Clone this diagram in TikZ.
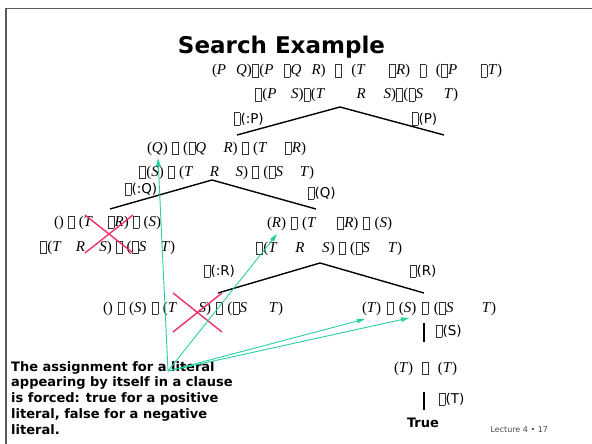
\documentclass[tikz,border=0pt]{standalone}
\usepackage{fontspec}
\setmainfont{Liberation Serif}
\setsansfont{DejaVu Sans}
\usetikzlibrary{arrows.meta}

\definecolor{hint}{RGB}{38,208,160}
\definecolor{prune}{RGB}{238,48,110}
\definecolor{framegray}{RGB}{90,90,90}

% italic propositional letter
\newcommand\lit[1]{\textit{#1}}
% blank left by the missing "or" glyph (stretches to the clause width)
\newcommand\orgap{\hspace{7pt plus 1fil minus 3pt}}
\newcommand\orfix[1][10pt]{\hspace{#1}}
\newcommand\orvar[1]{\hspace{#1 plus 1fil}}
% empty glyph box
\newcommand\gbox{{\color{black!80}\kern0.4pt\lower2.5pt\vbox{\hrule height .5pt\hbox{\vrule width .5pt height 12pt\kern 5.5pt\vrule width .5pt}\hrule height .5pt}\kern0.4pt}}
\newcommand\gsp{\hspace{3pt plus .1fil}\gbox\hspace{3pt plus .1fil}}
\newcommand\gwide{\hspace{1pt plus .5fil}\gbox\hspace{1pt plus .5fil}}
% a clause set laid out over a given width
\newcommand\clauses[2]{\makebox[#1][s]{#2}}

\begin{document}
\begin{tikzpicture}[x=1pt,y=-1pt,
  formula/.style={font=\fontsize{15}{15}\selectfont, anchor=base, inner sep=0pt},
  lab/.style={font=\sffamily\fontsize{13.5}{14}\selectfont, anchor=base west, inner sep=0pt},
  branch/.style={draw=black, line width=1.4pt},
  hintarrow/.style={draw=hint, line width=0.9pt, -{Triangle[length=8pt,width=4.5pt]}},
  cross/.style={draw=prune, line width=1.4pt}]
\useasboundingbox (0,0) rectangle (592,444);
\fill[white] (0,0) rectangle (592,444);
\draw[framegray, line width=1.2pt] (6,444) -- (6,8.5) -- (592,8.5);

\node[font=\sffamily\bfseries\fontsize{23}{23}\selectfont, anchor=base] (title) at (281.5,54) {Search Example};

% root
\node[formula] (f1a) at (357,75) {\clauses{290pt}{(\lit P\orfix\lit Q)\gbox(\lit P\orfix\gbox\lit Q\orfix\lit R)\gwide(\lit T\orgap\gbox\lit R)\gwide(\gbox\lit P\orgap\gbox\lit T)}};
\node[formula] (f1b) at (356.5,99) {\clauses{203pt}{\gbox(\lit P\orvar{11pt}\lit S)\gbox(\lit T\orvar{28pt}\lit R\orvar{14pt}\lit S)\gbox(\gbox\lit S\orvar{17pt}\lit T)}};
% after P false
\node[formula] (f2a) at (226.5,152) {\clauses{159pt}{(\lit Q)\gsp(\gbox\lit Q\orgap\lit R)\gsp(\lit T\orgap\gbox\lit R)}};
\node[formula] (f2b) at (226.5,176) {\clauses{175pt}{\gbox(\lit S)\gsp(\lit T\orgap\lit R\orgap\lit S)\gsp(\gbox\lit S\orgap\lit T)}};
% after Q false
\node[formula] (f3la) at (107.5,226) {\clauses{107pt}{()\gsp(\lit T\orgap\gbox\lit R)\gsp(\lit S)}};
\node[formula] (f3lb) at (107.5,251) {\clauses{135pt}{\gbox(\lit T\orgap\lit R\orgap\lit S)\gsp(\gbox\lit S\orgap\lit T)}};
% after Q true
\node[formula] (f3ra) at (329.5,227) {\clauses{125pt}{(\lit R)\gsp(\lit T\orgap\gbox\lit R)\gsp(\lit S)}};
\node[formula] (f3rb) at (329,252) {\clauses{146pt}{\gbox(\lit T\orgap\lit R\orgap\lit S)\gsp(\gbox\lit S\orgap\lit T)}};
% after R false / R true
\node[formula] (f4l) at (193,312) {\clauses{180pt}{()\gsp(\lit S)\gsp(\lit T\orgap\lit S)\gsp(\gbox\lit S\orgap\lit T)}};
\node[formula] (f4r) at (429,312) {\clauses{134pt}{(\lit T)\gsp(\lit S)\gsp(\gbox\lit S\orgap\lit T)}};
\node[formula] (f5) at (425.5,372) {\clauses{63pt}{(\lit T)\gsp(\lit T)}};

% branch labels
\node[lab] (lp1) at (233,123) {\gbox(:P)};
\node[lab] (lp2) at (411,123) {\gbox(P)};
\node[lab] (lq1) at (124,193) {\gbox(:Q)};
\node[lab] (lq2) at (307,197) {\gbox(Q)};
\node[lab] (lr1) at (203,275) {\gbox(:R)};
\node[lab] (lr2) at (409,275) {\gbox(R)};
\node[lab] (ls) at (435,335) {\gbox(S)};
\node[lab] (lt) at (438,403) {\gbox(T)};

\node[font=\sffamily\bfseries\fontsize{13}{13}\selectfont, anchor=base] (true) at (423,427) {True};
\node[font=\sffamily\fontsize{8}{8}\selectfont, anchor=base west, text=black!70] (foot) at (487,432) {Lecture 4 • 17};

\node[font=\sffamily\bfseries\fontsize{13}{15.8}\selectfont, align=left, anchor=north west, inner sep=0pt] (note) at (11,361)
  {The assignment for a literal\\appearing by itself in a clause\\is forced: true for a positive\\literal, false for a negative\\literal.};

% search tree
\coordinate (apex1) at (340,107);
\coordinate (b1l) at (237,135);
\coordinate (b1r) at (444,135);
\coordinate (apex2) at (212,180);
\coordinate (b2l) at (110,209);
\coordinate (b2r) at (316,209);
\coordinate (apex3) at (320,263);
\coordinate (b3l) at (218,293);
\coordinate (b3r) at (424,293);
\coordinate (s1) at (424,323);
\coordinate (s2) at (424,342);
\coordinate (t1) at (424,392);
\coordinate (t2) at (424,410);
\draw[branch] (b1l) -- (apex1) -- (b1r);
\draw[branch] (b2l) -- (apex2) -- (b2r);
\draw[branch] (b3l) -- (apex3) -- (b3r);
\draw[branch] (s1) -- (s2);
\draw[branch] (t1) -- (t2);

% pruned branches
\draw[cross] (85,215) -- (133,253) (85,253) -- (133,215);
\draw[cross] (173,293) -- (222,332) (173,332) -- (222,293);

% unit clauses pointed at by the note
\coordinate (src) at (168,371);
\coordinate (tipQ) at (158,158);
\coordinate (tipR) at (277,234);
\coordinate (tipT) at (365,319);
\coordinate (tipS) at (409,318);
\draw[hintarrow] (src) -- (tipQ);
\draw[hintarrow] (src) -- (tipR);
\draw[hintarrow] (src) -- (tipT);
\draw[hintarrow] (src) -- (tipS);
\end{tikzpicture}
\end{document}
